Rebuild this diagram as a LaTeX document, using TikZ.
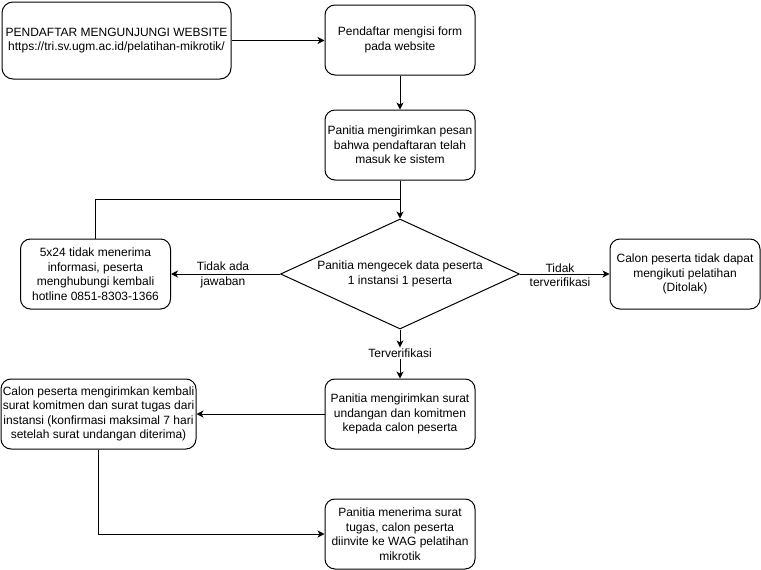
\documentclass[tikz,border=0pt]{standalone}
\usepackage{fontspec}
\setmainfont{Liberation Sans}
\usetikzlibrary{shapes.geometric,arrows.meta}
\tikzset{
  box/.style={draw, line width=1pt, rounded corners=10pt, align=center, minimum width=150pt, minimum height=70pt, inner sep=0pt},
  decision/.style={draw, line width=1pt, diamond, minimum width=239pt, minimum height=110pt, inner sep=0pt},
  lbl/.style={align=center, inner sep=1pt},
  conn/.style={line width=1pt, -{Stealth[length=7pt,width=7pt,inset=2pt]}},
  plain/.style={line width=1pt}
}
\begin{document}
\begin{tikzpicture}[x=1pt,y=-1pt,font=\fontsize{12pt}{14.5pt}\selectfont]
\useasboundingbox (0,0) rectangle (761,570);
\node[box, minimum width=229pt, minimum height=77pt, rounded corners=11pt] (b1) at (116.5,40.5) {PENDAFTAR MENGUNJUNGI WEBSITE\\https://tri.sv.ugm.ac.id/pelatihan-mikrotik/};
\node[box] (b2) at (400,40) {Pendaftar mengisi form\\pada website};
\node[box] (b3) at (400,145) {Panitia mengirimkan pesan\\bahwa pendaftaran telah\\masuk ke sistem};
\node[decision, label={[align=center]center:Panitia mengecek data peserta\\1 instansi 1 peserta}] (d) at (400,274) {};
\node[box] (bl) at (95.5,274) {5x24 tidak menerima\\informasi, peserta\\menghubungi kembali\\hotline 0851-8303-1366};
\node[box] (br) at (685,274) {Calon peserta tidak dapat\\mengikuti pelatihan\\(Ditolak)};
\node[lbl] (tv) at (400,353) {Terverifikasi};
\node[box] (b5) at (400,414) {Panitia mengirimkan surat\\undangan dan komitmen\\kepada calon peserta};
\node[box, minimum width=195pt] (b6) at (98.5,414) {Calon peserta mengirimkan kembali\\surat komitmen dan surat tugas dari\\instansi (konfirmasi maksimal 7 hari\\setelah surat undangan diterima)};
\node[box] (b7) at (400,534) {Panitia menerima surat\\tugas, calon peserta\\diinvite ke WAG pelatihan\\mikrotik};
\coordinate (j) at (400,199);
\node[lbl] (l1) at (223,275) {Tidak ada\\jawaban};
\node[lbl] (l2) at (560,275) {Tidak\\terverifikasi};
\draw[conn] (b1.east) -- (b1.east -| b2.west);
\draw[conn] (b2.south) -- (b3.north);
\draw[conn] (b3.south) -- (d.north);
\draw[plain] (bl.north) |- (j);
\draw[conn] (d.west) -- (bl.east);
\draw[conn] (d.east) -- (br.west);
\draw[conn] (d.south) -- (tv.north);
\draw[conn] (tv.south) -- (b5.north);
\draw[conn] (b5.west) -- (b6.east);
\draw[conn] (b6.south) |- (b7.west);
\end{tikzpicture}
\end{document}
